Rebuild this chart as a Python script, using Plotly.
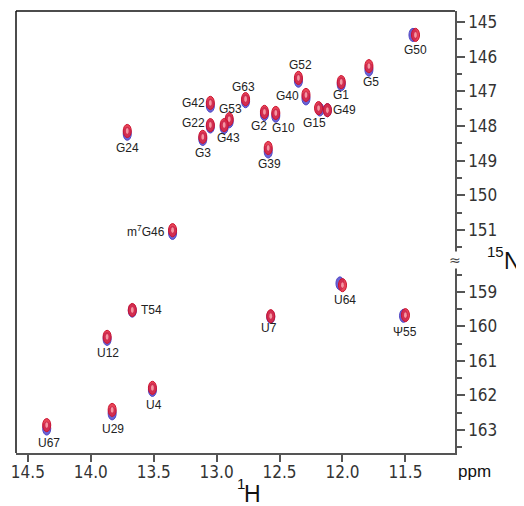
import plotly.graph_objects as go

# ---------------- data ----------------
peak_labels = ["G50", "G5", "G1", "G52", "G40", "G15", "G49", "G2", "G10", "G39",
               "G63", "G42", "G53", "G22", "G43", "G3", "G24", "m<sup>7</sup>G46",
               "T54", "U12", "U4", "U29", "U67", "U7", "U64", "Ψ55"]
h_ppm = [11.42, 11.79, 12.01, 12.35, 12.29, 12.19, 12.12, 12.62, 12.53, 12.59,
         12.77, 13.05, 12.90, 13.05, 12.94, 13.11, 13.71, 13.35,
         13.67, 13.87, 13.51, 13.83, 14.35, 12.57, 12.00, 11.50]
n_ppm = [145.37, 146.27, 146.73, 146.61, 147.10, 147.48, 147.54, 147.59, 147.62, 148.63,
         147.22, 147.33, 147.80, 147.97, 147.97, 148.31, 148.14, 151.00,
         159.52, 160.30, 161.78, 162.42, 162.86, 159.70, 158.80, 159.67]
# second (blue) spectrum, shift relative to red peak (ppm)
blue_dh = [0.02, 0.0, 0.0, 0.0, 0.0, -0.01, 0.0, 0.0, 0.0, 0.0,
           0.0, 0.0, 0.0, 0.0, 0.0, 0.0, 0.0, 0.0,
           0.0, 0.0, 0.0, 0.0, 0.0, 0.0, 0.02, 0.015]
blue_dn = [0.0, 0.10, 0.06, 0.08, 0.10, 0.04, 0.0, 0.06, 0.08, 0.10,
           0.06, 0.08, 0.06, 0.04, 0.06, 0.06, 0.08, 0.08,
           0.02, 0.06, 0.06, 0.10, 0.10, 0.02, -0.05, 0.02]
x_tick_vals = [14.5, 14.0, 13.5, 13.0, 12.5, 12.0, 11.5]
y_top_ticks = [145, 146, 147, 148, 149, 150, 151]
y_bot_ticks = [159, 160, 161, 162, 163]

# label offsets in pixels (style / placement)
label_shift = {
    "G50": (0, -15), "G5": (2, -16), "G1": (0, -13), "G52": (2, 13), "G40": (-18, -1),
    "G15": (-4, -15), "G49": (17, 0), "G2": (-5, -14), "G10": (8, -15), "G39": (1, -16),
    "G63": (-2, 12), "G42": (-17, 0), "G53": (1, 10), "G22": (-17, 2), "G43": (4, -13),
    "G3": (0, -16), "G24": (0, -17), "m<sup>7</sup>G46": (-27, -1),
    "T54": (19, 0), "U12": (1, -16), "U4": (2, -17), "U29": (1, -19), "U67": (2, -18),
    "U7": (-2, -12), "U64": (3, -15), "Ψ55": (0, -17),
}

BREAK = 0.4367
fig = go.Figure()
# invisible trace to set up axes
fig.add_trace(go.Scatter(x=[h_ppm[0]], y=[n_ppm[0]], mode="markers",
                         marker=dict(opacity=0), showlegend=False, hoverinfo="skip"))

hw, hh = 0.032, 0.19
shapes = []
annotations = []
for lab, hx, ny, dh, dn in zip(peak_labels, h_ppm, n_ppm, blue_dh, blue_dn):
    yref = "y" if ny < 155 else "y2"
    bx, by = hx + dh, ny + dn
    shapes.append(dict(type="circle", xref="x", yref=yref,
                       x0=bx - hw, x1=bx + hw, y0=by - hh, y1=by + hh,
                       fillcolor="#6a62d4", line=dict(color="#5148c4", width=1), layer="above"))
    shapes.append(dict(type="circle", xref="x", yref=yref,
                       x0=hx - hw, x1=hx + hw, y0=ny - hh, y1=ny + hh,
                       fillcolor="rgba(228,38,58,0.85)", line=dict(color="#cc1230", width=1), layer="above"))
    shapes.append(dict(type="circle", xref="x", yref=yref,
                       x0=hx - hw * 0.35, x1=hx + hw * 0.35, y0=ny - hh * 0.45, y1=ny + hh * 0.45,
                       fillcolor="rgba(255,185,190,0.75)", line=dict(width=0), layer="above"))
    sx, sy = label_shift[lab]
    annotations.append(dict(x=hx, y=ny, xref="x", yref=yref, text=lab, showarrow=False,
                            xshift=sx, yshift=sy,
                            font=dict(family="Liberation Sans, Arial, sans-serif", size=12, color="#222")))

# frame lines (top + left)
shapes.append(dict(type="line", xref="paper", yref="paper", x0=0, x1=1, y0=1, y1=1,
                   line=dict(color="#111", width=1.5)))
shapes.append(dict(type="line", xref="paper", yref="paper", x0=0, x1=0, y0=0, y1=1,
                   line=dict(color="#111", width=1.5)))

tickfont = dict(family="Liberation Sans Narrow, Arial Narrow, DejaVu Sans Condensed, sans-serif",
                size=17, color="#333")
titlefont = "Liberation Sans, Arial, sans-serif"

annotations += [
    dict(xref="paper", yref="paper", x=1, y=BREAK, text="≈", showarrow=False,
         font=dict(size=14, color="#444", family="DejaVu Sans"), bgcolor="white",
         borderpad=0, xanchor="center", yanchor="middle"),
    # 15N axis title
    dict(xref="paper", yref="paper", x=1.0926, y=0.4548, text="15", showarrow=False,
         font=dict(size=15, color="#111", family=titlefont), xanchor="center", yanchor="middle"),
    dict(xref="paper", yref="paper", x=1.131, y=0.4344, text="N", showarrow=False,
         font=dict(size=23, color="#111", family=titlefont), xanchor="center", yanchor="middle"),
    # ppm
    dict(xref="paper", yref="paper", x=1, y=0, xshift=19, yshift=-18, text="ppm",
         showarrow=False, font=dict(size=17, color="#111", family=titlefont),
         xanchor="center", yanchor="middle"),
    # 1H axis title
    dict(xref="paper", yref="paper", x=0.5125, y=-0.0701, text="1", showarrow=False,
         font=dict(size=15, color="#111", family=titlefont), xanchor="center", yanchor="middle"),
    dict(xref="paper", yref="paper", x=0.5395, y=-0.0928, text="H", showarrow=False,
         font=dict(size=23, color="#111", family=titlefont), xanchor="center", yanchor="middle"),
]

# page body has an 8px margin: figure is sized so that it fills the 524x506 window exactly
fig.update_layout(
    width=516, height=498,
    margin=dict(l=4, r=69, t=3, b=53),
    paper_bgcolor="white", plot_bgcolor="white",
    showlegend=False,
    shapes=shapes, annotations=annotations,
    xaxis=dict(range=[14.594, 11.106], anchor="y2", tickmode="array",
               tickvals=x_tick_vals, ticktext=[f"{v:.1f}" for v in x_tick_vals],
               ticks="outside", ticklen=7, tickwidth=1.5, tickcolor="#555",
               ticklabelstandoff=-4, ticklabeloverflow="allow",
               showline=True, linecolor="#555", linewidth=1.5,
               showgrid=False, zeroline=False, tickfont=tickfont),
    yaxis=dict(domain=[BREAK, 1], range=[151.86, 144.68], anchor="x", side="right",
               tickmode="array", tickvals=y_top_ticks, ticktext=[str(v) for v in y_top_ticks],
               ticks="outside", ticklen=8, tickwidth=1.5, tickcolor="#555",
               ticklabeloverflow="allow",
               minor=dict(dtick=0.5, tick0=144.5, ticks="outside", ticklen=5, tickwidth=1.5,
                          tickcolor="#555", showgrid=False),
               showline=True, linecolor="#555", linewidth=1.5,
               showgrid=False, zeroline=False, tickfont=tickfont),
    yaxis2=dict(domain=[0, BREAK], range=[163.67, 158.07], anchor="x", side="right",
                tickmode="array", tickvals=y_bot_ticks, ticktext=[str(v) for v in y_bot_ticks],
                ticks="outside", ticklen=8, tickwidth=1.5, tickcolor="#555",
                ticklabeloverflow="allow",
                minor=dict(dtick=0.5, tick0=158.5, ticks="outside", ticklen=5, tickwidth=1.5,
                           tickcolor="#555", showgrid=False),
                showline=True, linecolor="#555", linewidth=1.5,
                showgrid=False, zeroline=False, tickfont=tickfont),
)

fig.write_html("out.html")
